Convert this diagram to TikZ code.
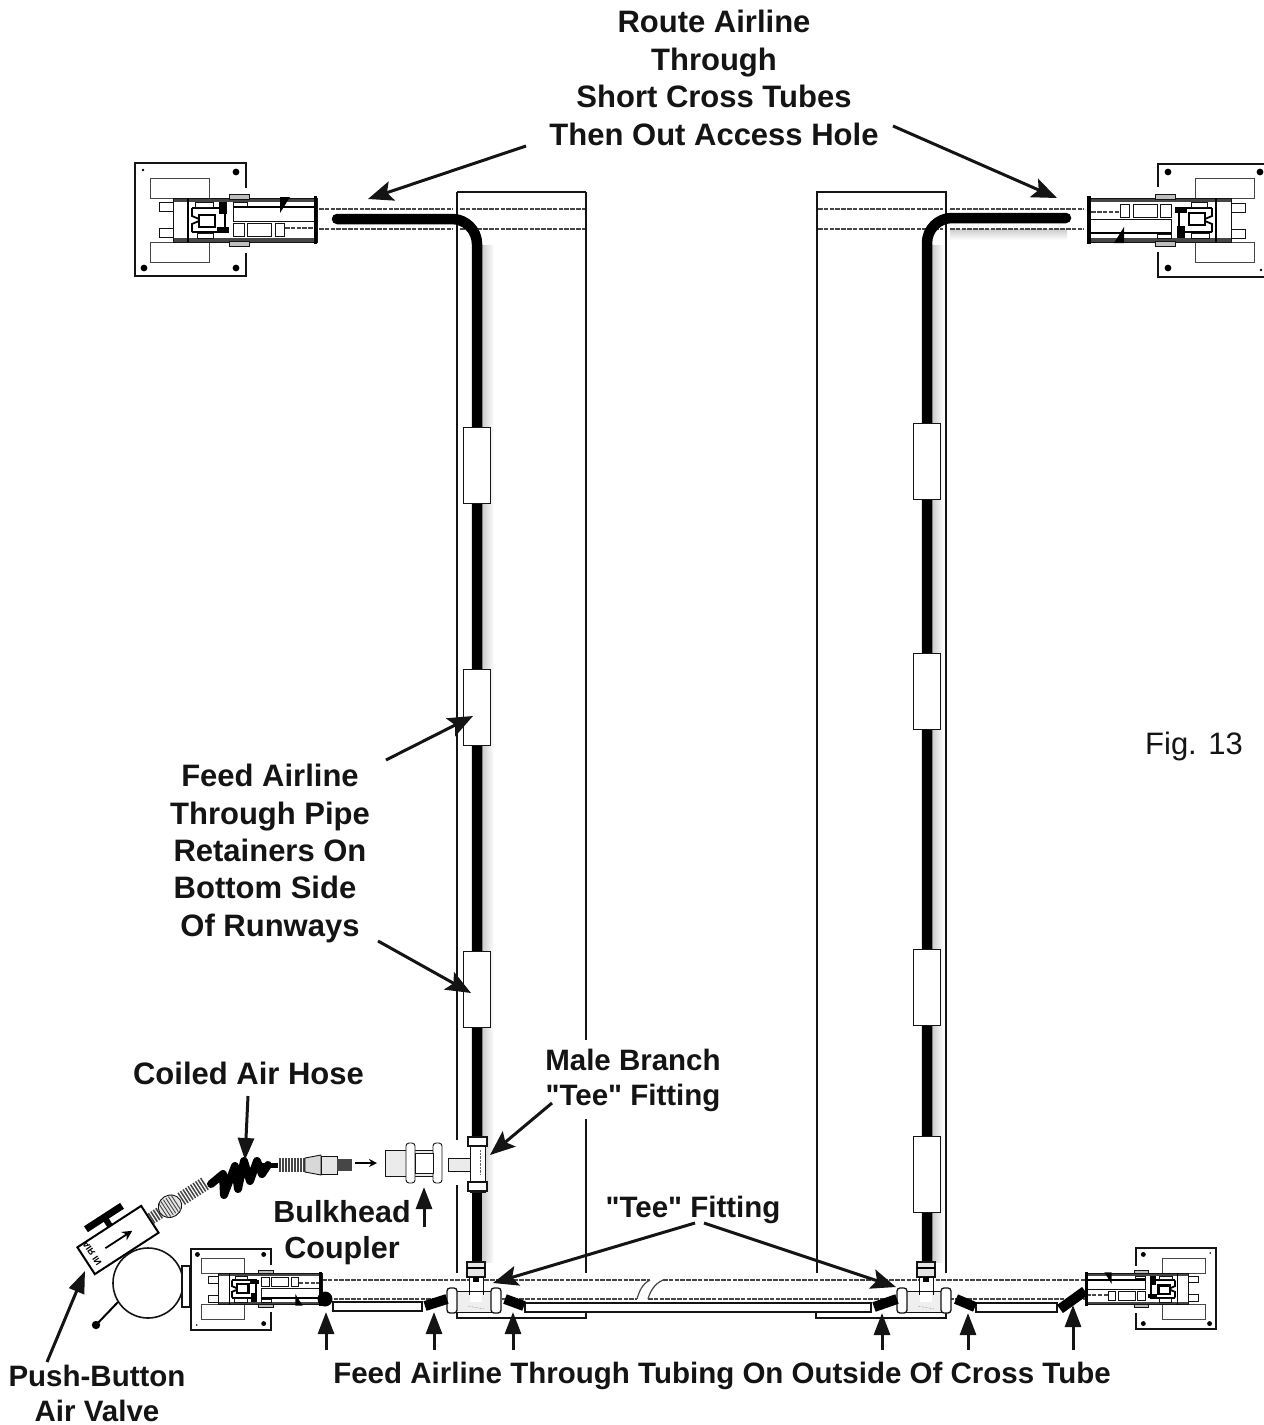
\documentclass[tikz,border=0pt]{standalone}
\usepackage{xcolor}
\usepackage{fontspec}
\setmainfont{Liberation Sans}[Ligatures=TeXOff]
\usetikzlibrary{arrows.meta, calc}
\definecolor{inkdark}{RGB}{20,20,20}
\definecolor{ductgrey}{RGB}{70,70,70}
\definecolor{partgrey}{RGB}{190,190,190}
\tikzset{
  lbl/.style={font=\fontsize{31}{37.4}\selectfont\bfseries, align=center, inner sep=0pt, text=inkdark},
  lblsmall/.style={font=\fontsize{29.5}{35}\selectfont\bfseries, align=center, inner sep=0pt, text=inkdark},
  callout/.style={-{Stealth[length=25pt,width=20pt,inset=5pt]}, line width=3pt, color=inkdark},
  calloutup/.style={-{Stealth[length=22pt,width=16pt,inset=0pt]}, line width=3pt, color=inkdark},
  rail/.style={line width=1.7pt, color=inkdark},
  duct/.style={line width=1.6pt, color=ductgrey, dash pattern=on 4.5pt off 1.3pt},
  hose/.style={line width=10.5pt, color=black, line cap=round},
  stub/.style={line width=10pt, color=black},
  retainer/.style={draw=inkdark, fill=white, line width=1pt},
  tubing/.style={draw=inkdark, fill=white, line width=1.2pt},
  part/.style={draw=inkdark, fill=white, line width=0.9pt},
  partdark/.style={draw=black, fill=partgrey, line width=0.9pt},
  fixture/.pic={
    \draw[line width=2pt, color=inkdark] (-71,-32) -- (-71,-57) -- (-182,-57) -- (-182,56) -- (-71,56) -- (-71,33);
    \foreach \x/\y in {-81/-48,-173/48,-81/48} \fill[black] (\x,\y) circle (3.4);
    \fill[black] (-174,-50) circle (1.3);
    \draw[line width=0.8pt, color=ductgrey] (-167,-42) rectangle (-108,-22);
    \draw[line width=0.8pt, color=ductgrey] (-167,22) rectangle (-108,42);
    \draw[part] (-158,-18) rectangle (-144,-9);
    \draw[part] (-158,8) rectangle (-144,17);
    \fill[white] (-144,-22) rectangle (0,22);
    \fill[ductgrey] (-144,-22) rectangle (0,-18);
    \fill[ductgrey] (-144,18) rectangle (0,22);
    \draw[part, fill=none] (-144,-22) rectangle (0,22);
    \draw[line width=1.2pt] (-129,-22) -- (-129,22);
    \draw[line width=2.2pt] (-125,-12) -- (-92,-12) -- (-92,12) -- (-125,12);
    \draw[line width=2.2pt] (-118,-5) rectangle (-102,7);
    \draw[line width=1.8pt] (-125,-12) -- (-125,-4) -- (-118,-1);
    \draw[line width=1.8pt] (-125,12) -- (-125,4) -- (-118,1);
    \fill[black] (-98,-18) rectangle (-90,-6);
    \fill[black] (-100,7) rectangle (-88,13);
    \draw[part, fill=partgrey] (-88,-26) rectangle (-68,-21);
    \draw[part, fill=partgrey] (-88,21) rectangle (-68,26);
    \draw[part] (-122,-18) rectangle (-104,-13);
    \draw[part] (-84,-18) rectangle (-70,-14);
    \draw[part] (-120,13) rectangle (-104,18);
    \draw[part] (-84,3) rectangle (-73,16);
    \draw[part] (-70,3) rectangle (-46,16);
    \draw[part] (-42,3) rectangle (-33,16);
    \draw[part] (-84,-13) rectangle (0,1);
    \draw[line width=1.8pt] (-84,-13) -- (0,-13);
    \draw[duct] (-32,8) -- (0,8);
    \fill[black] (-37,-23) -- (-27,-23) -- (-37,-7) -- cycle;
    \fill[black] (-3.5,-24) rectangle (0,24);
  },
  teefit/.pic={
    \draw[part] (-7,-28) rectangle (7,-8);
    \draw[part, fill=partgrey!40, line width=1.2pt] (-9,-39) rectangle (9,-24);
    \draw[line width=1.4pt] (-9,-33) -- (9,-33);
    \fill[black] (-3,-24) rectangle (3,-19);
    \draw[part, fill=partgrey!25] (-20,-10) rectangle (16,11);
    \foreach \x in {-29,15} \draw[part, rounded corners=3pt, line width=1.3pt] (\x,-13) rectangle ++(10,25);
    \fill[white] (-6,-9) rectangle (6,1);
    \draw[line width=1pt] (-7,-11) -- (-7,-6) (7,-11) -- (7,-6);
    \draw[black!60, densely dotted] (-8,5) -- (8,8);
  }
}
\begin{document}
\begin{tikzpicture}[x=1pt,y=-1pt]
  \useasboundingbox (0,0) rectangle (1264,1425);

  \shade[left color=black!22, right color=white] (481,245) rectangle (494,1262);
  \shade[left color=black!22, right color=white] (931,245) rectangle (944,1262);
  \shade[top color=black!20, bottom color=white] (950,229) rectangle (1067,240);

  \draw[rail] (457,192) -- (586,192);
  \draw[rail] (457,192) -- (457,1140);
  \draw[rail] (457,1185) -- (457,1273);
  \draw[rail] (586,192) -- (586,1040);
  \draw[rail] (586,1119) -- (586,1273);
  \draw[rail] (457,1312) -- (457,1318) -- (586,1318) -- (586,1312);
  \draw[rail] (817,1273) -- (817,192) -- (946,192) -- (946,1273);
  \draw[rail] (816,1312) -- (816,1318) -- (946,1318) -- (946,1312);

  \foreach \y in {209,229} {
    \draw[duct] (319,\y) -- (453,\y);
    \draw[duct] (460,\y) -- (585,\y);
    \draw[duct] (818,\y) -- (943,\y);
    \draw[duct] (950,\y) -- (1084,\y);
  }
  \draw[duct] (322,1280) -- (650,1280);
  \draw[duct] (663,1280) -- (1085,1280);
  \draw[duct] (322,1299) -- (637,1299);
  \draw[duct] (648,1299) -- (1085,1299);
  \draw[line width=1.2pt, color=ductgrey] (650,1280) .. controls (642,1284) and (639,1292) .. (637,1299);
  \draw[line width=1.2pt, color=ductgrey] (663,1280) .. controls (654,1284) and (650,1292) .. (648,1299);

  \draw[hose] (337,219) -- (452,219) arc[start angle=-90, end angle=0, radius=25] -- (477,1140);
  \draw[hose] (1066,218) -- (952,218) arc[start angle=-90, end angle=-180, radius=25] -- (927,1265);
  \draw[hose, line cap=butt] (477,1185) -- (477,1265);

  \foreach \y in {427,669,951} \draw[retainer] (463,\y) rectangle ++(27,76.5);
  \foreach \y in {423,653,949,1136} \draw[retainer] (913,\y) rectangle ++(27,76.5);

  \pic at (317,220) {fixture};
  \pic[xscale=-1,yscale=-1] at (1087,220) {fixture};
  \pic[xscale=0.72,yscale=-0.72] at (322,1289) {fixture};
  \pic[xscale=-0.72,yscale=0.72] at (1085,1289) {fixture};

  \draw[tubing] (333,1302) rectangle (422,1311);
  \draw[tubing] (525,1303) rectangle (871,1312);
  \draw[tubing] (976,1303) rectangle (1057,1312);

  \pic at (476,1301) {teefit};
  \pic at (926,1301) {teefit};

  \fill[black] (325,1299) circle (7.5);
  \draw[stub] (425,1306) -- (447,1299);
  \draw[stub] (505,1299) -- (524,1306);
  \draw[stub] (874,1307) -- (897,1299);
  \draw[stub] (956,1299) -- (975,1307);
  \draw[stub] (1060,1309) -- (1085,1291);

  \draw[part] (470,1137) rectangle (485,1192);
  \draw[part, fill=partgrey!30] (448,1158) rectangle (470,1171);
  \foreach \y in {1137,1182} \draw[part, line width=1.2pt] (468,\y) rectangle ++(19,9);
  \draw[black!60, densely dotted] (480,1150) -- (480,1175);

  \draw[part, fill=partgrey!30] (385,1150) rectangle (433,1176);
  \foreach \x in {406,433} \draw[part, rounded corners=3pt] (\x,1143) rectangle ++(9,40);
  \draw[part] (415,1153) rectangle (433,1173);

  \draw[line width=2pt, -{Stealth[length=8pt,width=8pt]}] (355,1163) -- (377,1163);
  \draw[line width=5pt, color=black] (262,1165) -- (278,1165);
  \foreach \x in {280,283,...,304} \draw[line width=1.4pt, color=ductgrey] (\x,1158) -- (\x,1172);
  \draw[part, fill=partgrey!60] (305,1158) -- (321,1155) -- (321,1175) -- (305,1172) -- cycle;
  \draw[part, fill=partgrey!40] (321,1156) rectangle (337,1174);
  \fill[ductgrey] (337,1159) rectangle (352,1171);

  \draw[line width=8pt, black, line join=round, line cap=round] (211,1184) -- (223,1174) -- (224,1195) -- (235,1166) -- (238,1189) -- (244,1161) -- (250,1181) -- (257,1161) -- (262,1174) -- (268,1165);

  \begin{scope}[shift={(118,1240)}, rotate=33]
    \draw[line width=2pt, fill=white] (-38,-16) rectangle (38,16);
    \fill[black] (-21,-30) rectangle (22,-23);
    \fill[black] (-2,-24) rectangle (4,-16);
    \draw[line width=1.8pt, -{Stealth[length=10pt,width=10pt]}] (-15,0) -- (17,0);
    \foreach \x in {40,43,...,49} \draw[line width=1.6pt, color=ductgrey] (\x,-6) -- (\x,6);
    \draw[part, fill=partgrey!40] (62,0) ellipse (12 and 11);
    \foreach \x in {54,57,...,70} \draw[line width=0.9pt, color=ductgrey] (\x,-9) -- (\x,9);
    \foreach \x in {76,79,...,105} \draw[line width=1.5pt, color=ductgrey] (\x,-7) -- (\x,7);
  \end{scope}
  \node (airin) [rotate=-56, yscale=-1, font=\fontsize{9}{9}\selectfont\bfseries, inner sep=0pt] at (92,1253) {AIR IN};

  \draw[line width=1.6pt, color=inkdark, fill=white] (148,1283) circle (35);
  \draw[rail, fill=white] (182,1266) rectangle (190,1307);
  \draw[line width=2pt] (118,1302) -- (96,1325);
  \fill[black] (96,1325) circle (4.2);

  \node (routelbl) [lbl] at (714,78) {Route Airline\\Through\\Short Cross Tubes\\Then Out Access Hole};
  \node (feedlbl) [lbl] at (270,853.5) {Feed Airline\\Through Pipe\\Retainers On\\\mbox{Bottom Side\hspace{10pt}}\\Of Runways};
  \node (coiledlbl) [lbl] at (248.5,1073) {Coiled Air Hose};
  \node (malelbl) [lblsmall] at (633,1080) {Male Branch\\"Tee" Fitting};
  \node (teelbl) [lblsmall] at (693,1210) {"Tee" Fitting};
  \node (bulklbl) [lbl, font=\fontsize{30.5}{36}\selectfont\bfseries] at (342,1233) {Bulkhead\\Coupler};
  \node (pushlbl) [lblsmall] at (97,1393) {Push-Button\\Air Valve};
  \node (tubelbl) [font=\fontsize{29.5}{35}\selectfont\bfseries, inner sep=0pt, text=inkdark] at (722,1376) {Feed Airline Through Tubing On Outside Of Cross Tube};
  \node (figlbl) [font=\fontsize{31}{37}\selectfont, inner sep=0pt, text=inkdark] at (1194,746) {Fig. 13};

  \coordinate (routeL) at (526,146);
  \coordinate (routeR) at (893,126);
  \coordinate (feedA) at (386,760);
  \coordinate (feedB) at (378,941);
  \coordinate (coiledA) at (248,1096);
  \coordinate (maleA) at (552,1103);
  \coordinate (bulkA) at (424,1227);
  \coordinate (pushA) at (47,1362);
  \coordinate (teeL) at (695,1223);
  \coordinate (teeR) at (704,1223);
  \coordinate (crossL) at (368,199);
  \coordinate (crossR) at (1057,198);
  \coordinate (retA) at (473,716);
  \coordinate (retB) at (471,993);
  \coordinate (coilTip) at (245,1160);
  \coordinate (maleTip) at (490,1155);
  \coordinate (bulkTip) at (424,1187);
  \coordinate (valveTip) at (85,1271);
  \coordinate (teeTipL) at (493,1283);
  \coordinate (teeTipR) at (896,1287);

  \draw[callout] (routeL) -- (crossL);
  \draw[callout] (routeR) -- (crossR);
  \draw[callout] (feedA) -- (retA);
  \draw[callout] (feedB) -- (retB);
  \draw[calloutup] (coiledA) -- (coilTip);
  \draw[callout] (maleA) -- (maleTip);
  \draw[calloutup] (bulkA) -- (bulkTip);
  \draw[calloutup] (pushA) -- (valveTip);
  \draw[callout] (teeL) -- (teeTipL);
  \draw[callout] (teeR) -- (teeTipR);

  \foreach \name/\x/\y in {a/326/1312,b/434/1312,c/513/1312,d/882/1313,e/968/1313,f/1073/1305} {
    \coordinate (tube\name) at (\x,1350);
    \coordinate (tip\name) at (\x,\y);
    \draw[calloutup] (tube\name) -- (tip\name);
  }
\end{tikzpicture}
\end{document}
